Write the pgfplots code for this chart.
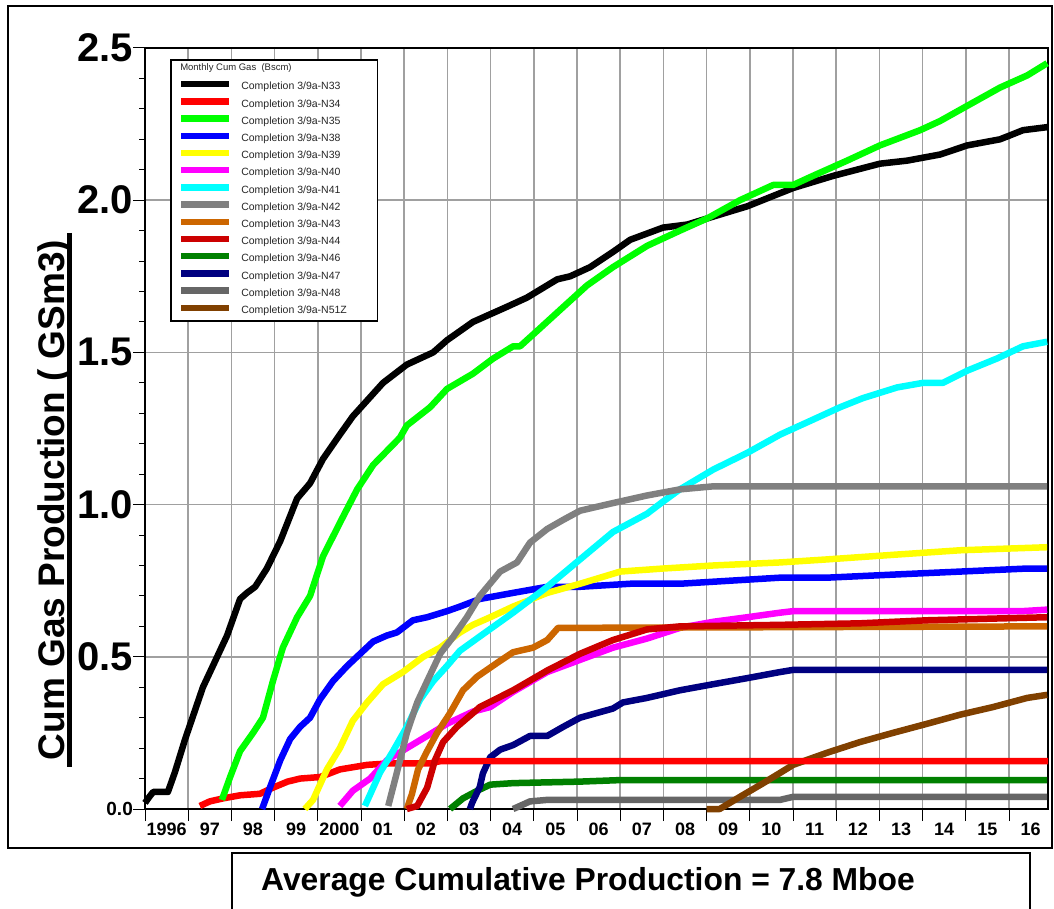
\documentclass[border=0pt]{standalone}
\usepackage{fontspec}
\setmainfont{Liberation Sans}
\usepackage{pgfplots}
\pgfplotsset{compat=1.18}
\definecolor{cN33}{RGB}{0,0,0}
\definecolor{cN34}{RGB}{255,0,0}
\definecolor{cN35}{RGB}{0,255,0}
\definecolor{cN38}{RGB}{0,0,255}
\definecolor{cN39}{RGB}{255,255,0}
\definecolor{cN40}{RGB}{255,0,255}
\definecolor{cN41}{RGB}{0,255,255}
\definecolor{cN42}{RGB}{128,128,128}
\definecolor{cN43}{RGB}{204,102,0}
\definecolor{cN44}{RGB}{204,0,0}
\definecolor{cN46}{RGB}{0,128,0}
\definecolor{cN47}{RGB}{0,0,128}
\definecolor{cN48}{RGB}{102,102,102}
\definecolor{cN51}{RGB}{128,64,0}
\definecolor{gridgray}{RGB}{160,160,160}
\begin{document}
\begin{tikzpicture}[x=1pt,y=1pt]
\begin{axis}[
  at={(145pt,-809pt)}, anchor=south west,
  scale only axis, width=903pt, height=761pt,
  xmin=1996, xmax=2016.9, ymin=0, ymax=2.5,
  clip=false,
  xtick={1996,...,2016},
  xticklabels={1996,97,98,99,2000,01,02,03,04,05,06,07,08,09,10,11,12,13,14,15,16},
  xticklabel style={font=\fontsize{18}{18}\selectfont\bfseries, xshift=21.6pt, inner sep=0pt, anchor=north, yshift=-2pt},
  minor x tick num=11,
  ytick={0,0.5,1,1.5,2,2.5},
  yticklabels={{\fontsize{19}{19}\selectfont 0.0},0.5,1.0,1.5,2.0,2.5},
  yticklabel style={font=\fontsize{40}{40}\selectfont\bfseries, inner sep=0pt, anchor=east},
  minor y tick num=4,
  tick align=outside, xtick pos=left, ytick pos=left,
  major tick length=12pt, minor tick length=6pt,
  tick style={line width=1pt, black},
  grid=major, major grid style={line width=1.5pt, color=gridgray},
  axis line style={line width=1.5pt, black},
  every axis plot/.append style={line width=6.5pt, line join=round},
  legend image code/.code={\draw[#1] (0pt,3pt) -- (48pt,3pt);},
  legend cell align=left,
  legend style={at={(0.0277,0.9855)}, anchor=north west, draw=black, line width=1.5pt, fill=white,
    inner xsep=7pt, inner ysep=5pt, font=\fontsize{10.5}{12}\selectfont, text=black!85,
    row sep=5.7pt, column sep=9pt,
    nodes={inner sep=0pt, text height=8pt, text depth=2.5pt}},
]
\addlegendimage{legend image code/.code={\node[overlay, anchor=base west, inner sep=0pt, xshift=-4pt, font=\fontsize{9.5}{10}\selectfont] at (0pt,0pt) {Monthly\ Cum\ Gas\ \ (Bscm)};}}
\addlegendentry{}
\addplot[cN33] coordinates {(1996.0,0.02) (1996.1,0.04) (1996.19,0.056) (1996.53,0.056) (1996.69,0.12) (1996.93,0.23) (1997.34,0.40) (1997.67,0.50) (1997.90,0.57) (1998.20,0.69) (1998.36,0.71) (1998.55,0.73) (1998.82,0.79) (1999.13,0.88) (1999.52,1.02) (1999.82,1.07) (2000.12,1.15) (2000.51,1.23) (2000.81,1.29) (2001.51,1.40) (2002.06,1.46) (2002.67,1.50) (2002.99,1.54) (2003.59,1.60) (2004.38,1.65) (2004.84,1.68) (2005.54,1.74) (2005.84,1.75) (2006.30,1.78) (2006.83,1.83) (2007.23,1.87) (2007.99,1.91) (2008.55,1.92) (2009.01,1.94) (2009.94,1.98) (2011.0,2.04) (2011.93,2.08) (2013.01,2.12) (2013.64,2.13) (2014.40,2.15) (2015.03,2.18) (2015.79,2.20) (2016.32,2.23) (2016.88,2.24)};
\addlegendentry{Completion 3/9a-N33}
\addplot[cN34] coordinates {(1997.27,0.01) (1997.5,0.025) (1997.81,0.035) (1998.2,0.045) (1998.66,0.05) (1998.96,0.07) (1999.3,0.09) (1999.59,0.10) (2000.05,0.105) (2000.51,0.13) (2001.14,0.145) (2001.67,0.15) (2002.60,0.15) (2002.83,0.157) (2016.9,0.157)};
\addlegendentry{Completion 3/9a-N34}
\addplot[cN35] coordinates {(1997.78,0.03) (1997.97,0.105) (1998.20,0.19) (1998.50,0.25) (1998.73,0.30) (1998.96,0.42) (1999.19,0.53) (1999.52,0.63) (1999.82,0.70) (2000.12,0.83) (2000.51,0.94) (2000.91,1.05) (2001.28,1.13) (2001.90,1.22) (2002.06,1.26) (2002.60,1.32) (2002.99,1.38) (2003.59,1.43) (2004.06,1.48) (2004.52,1.52) (2004.68,1.52) (2005.07,1.57) (2005.61,1.64) (2006.23,1.72) (2006.83,1.78) (2007.62,1.85) (2008.38,1.90) (2009.01,1.94) (2009.77,2.00) (2010.54,2.05) (2011.0,2.05) (2011.46,2.08) (2012.25,2.13) (2013.01,2.18) (2013.94,2.23) (2014.40,2.26) (2015.03,2.31) (2015.79,2.37) (2016.42,2.41) (2016.88,2.45)};
\addlegendentry{Completion 3/9a-N35}
\addplot[cN38] coordinates {(1998.71,0.0) (1998.89,0.07) (1999.13,0.16) (1999.36,0.23) (1999.59,0.27) (1999.82,0.30) (2000.05,0.36) (2000.35,0.42) (2000.68,0.47) (2000.98,0.51) (2001.28,0.55) (2001.60,0.57) (2001.83,0.58) (2002.2,0.62) (2002.53,0.63) (2002.99,0.65) (2003.29,0.665) (2003.75,0.69) (2004.52,0.71) (2005.31,0.73) (2006.07,0.73) (2007.23,0.74) (2008.38,0.74) (2009.54,0.75) (2010.70,0.76) (2011.79,0.76) (2013.31,0.77) (2014.87,0.78) (2016.42,0.79) (2016.88,0.79)};
\addlegendentry{Completion 3/9a-N38}
\addplot[cN39] coordinates {(1999.70,0.0) (1999.89,0.03) (2000.21,0.13) (2000.51,0.20) (2000.81,0.29) (2001.14,0.35) (2001.51,0.41) (2001.97,0.45) (2002.44,0.50) (2002.83,0.53) (2003.29,0.58) (2003.59,0.605) (2003.99,0.63) (2004.52,0.665) (2005.31,0.71) (2006.07,0.74) (2007.0,0.78) (2007.99,0.79) (2009.15,0.80) (2010.70,0.81) (2011.79,0.82) (2013.31,0.835) (2014.87,0.85) (2016.88,0.86)};
\addlegendentry{Completion 3/9a-N39}
\addplot[cN40] coordinates {(2000.51,0.01) (2000.81,0.06) (2001.21,0.10) (2001.60,0.16) (2002.06,0.20) (2002.53,0.24) (2002.99,0.28) (2003.59,0.32) (2003.99,0.335) (2004.52,0.385) (2005.31,0.45) (2006.07,0.49) (2006.83,0.53) (2007.62,0.56) (2008.38,0.595) (2009.15,0.615) (2009.94,0.63) (2010.70,0.645) (2011.0,0.65) (2016.3,0.65) (2016.88,0.655)};
\addlegendentry{Completion 3/9a-N40}
\addplot[cN41] coordinates {(2001.09,0.01) (2001.44,0.12) (2001.74,0.19) (2002.06,0.27) (2002.37,0.36) (2002.67,0.42) (2002.99,0.47) (2003.29,0.52) (2003.75,0.567) (2004.52,0.645) (2005.31,0.73) (2006.07,0.82) (2006.83,0.91) (2007.62,0.97) (2007.99,1.01) (2008.38,1.05) (2009.15,1.115) (2009.94,1.17) (2010.70,1.23) (2011.32,1.27) (2012.09,1.32) (2012.62,1.35) (2013.41,1.385) (2014.01,1.40) (2014.47,1.40) (2015.03,1.44) (2015.72,1.48) (2016.32,1.52) (2016.88,1.535)};
\addlegendentry{Completion 3/9a-N41}
\addplot[cN42] coordinates {(2001.63,0.01) (2001.83,0.12) (2002.06,0.25) (2002.30,0.35) (2002.53,0.42) (2002.83,0.51) (2003.13,0.565) (2003.45,0.63) (2003.75,0.70) (2004.22,0.78) (2004.61,0.81) (2004.91,0.875) (2005.31,0.92) (2005.68,0.95) (2006.07,0.98) (2006.83,1.005) (2007.62,1.03) (2008.38,1.05) (2009.15,1.06) (2016.88,1.06)};
\addlegendentry{Completion 3/9a-N42}
\addplot[cN43] coordinates {(2002.06,0.0) (2002.18,0.05) (2002.32,0.13) (2002.53,0.19) (2002.76,0.25) (2003.06,0.315) (2003.36,0.39) (2003.69,0.435) (2004.15,0.48) (2004.52,0.515) (2004.98,0.53) (2005.31,0.555) (2005.56,0.595) (2016.88,0.60)};
\addlegendentry{Completion 3/9a-N43}
\addplot[cN44] coordinates {(2002.06,0.0) (2002.30,0.01) (2002.53,0.07) (2002.71,0.16) (2002.90,0.22) (2003.22,0.27) (2003.59,0.315) (2003.75,0.335) (2004.52,0.39) (2005.31,0.455) (2006.07,0.51) (2006.83,0.555) (2007.62,0.59) (2008.38,0.60) (2010.70,0.605) (2012.55,0.61) (2014.10,0.62) (2016.88,0.63)};
\addlegendentry{Completion 3/9a-N44}
\addplot[cN46] coordinates {(2003.06,0.0) (2003.36,0.035) (2003.69,0.06) (2003.99,0.08) (2004.52,0.085) (2006.07,0.09) (2007.0,0.095) (2016.88,0.095)};
\addlegendentry{Completion 3/9a-N46}
\addplot[cN47] coordinates {(2003.52,0.0) (2003.57,0.02) (2003.75,0.073) (2003.82,0.117) (2003.99,0.17) (2004.22,0.195) (2004.52,0.21) (2004.91,0.24) (2005.31,0.24) (2005.68,0.27) (2006.07,0.30) (2006.83,0.33) (2007.06,0.35) (2007.62,0.365) (2008.38,0.39) (2009.15,0.41) (2009.94,0.43) (2010.70,0.45) (2011.0,0.457) (2016.88,0.457)};
\addlegendentry{Completion 3/9a-N47}
\addplot[cN48] coordinates {(2004.52,0.0) (2004.91,0.025) (2005.31,0.03) (2010.70,0.03) (2011.0,0.04) (2016.88,0.04)};
\addlegendentry{Completion 3/9a-N48}
\addplot[cN51] coordinates {(2009.0,0.0) (2009.3,0.0) (2009.77,0.04) (2010.31,0.085) (2010.68,0.117) (2011.0,0.145) (2011.79,0.185) (2012.55,0.22) (2013.31,0.25) (2014.10,0.28) (2014.87,0.31) (2015.63,0.335) (2016.42,0.365) (2016.88,0.375)};
\addlegendentry{\makebox[129pt][l]{Completion 3/9a-N51Z}}
\addplot[cN34, forget plot] coordinates {(2002.83,0.157) (2016.9,0.157)};
\end{axis}
\draw[line width=2pt] (8,-6) rectangle (1052,-848);
\draw[line width=2pt] (232,-853) rectangle (1030,-915);
\node[font=\fontsize{31.8}{32}\selectfont\bfseries, inner sep=0pt] at (588,-882) {Average Cumulative Production = 7.8 Mboe};
\node[rotate=90, anchor=base, inner sep=0pt, font=\fontsize{37}{37}\selectfont\bfseries] at (64,-500) {Cum Gas Production ( GSm3)};
\draw[line width=5pt] (69.5,-233) -- (69.5,-767);
\pgfresetboundingbox
\path[use as bounding box] (0,0) rectangle (1054,-909);
\end{tikzpicture}
\end{document}
